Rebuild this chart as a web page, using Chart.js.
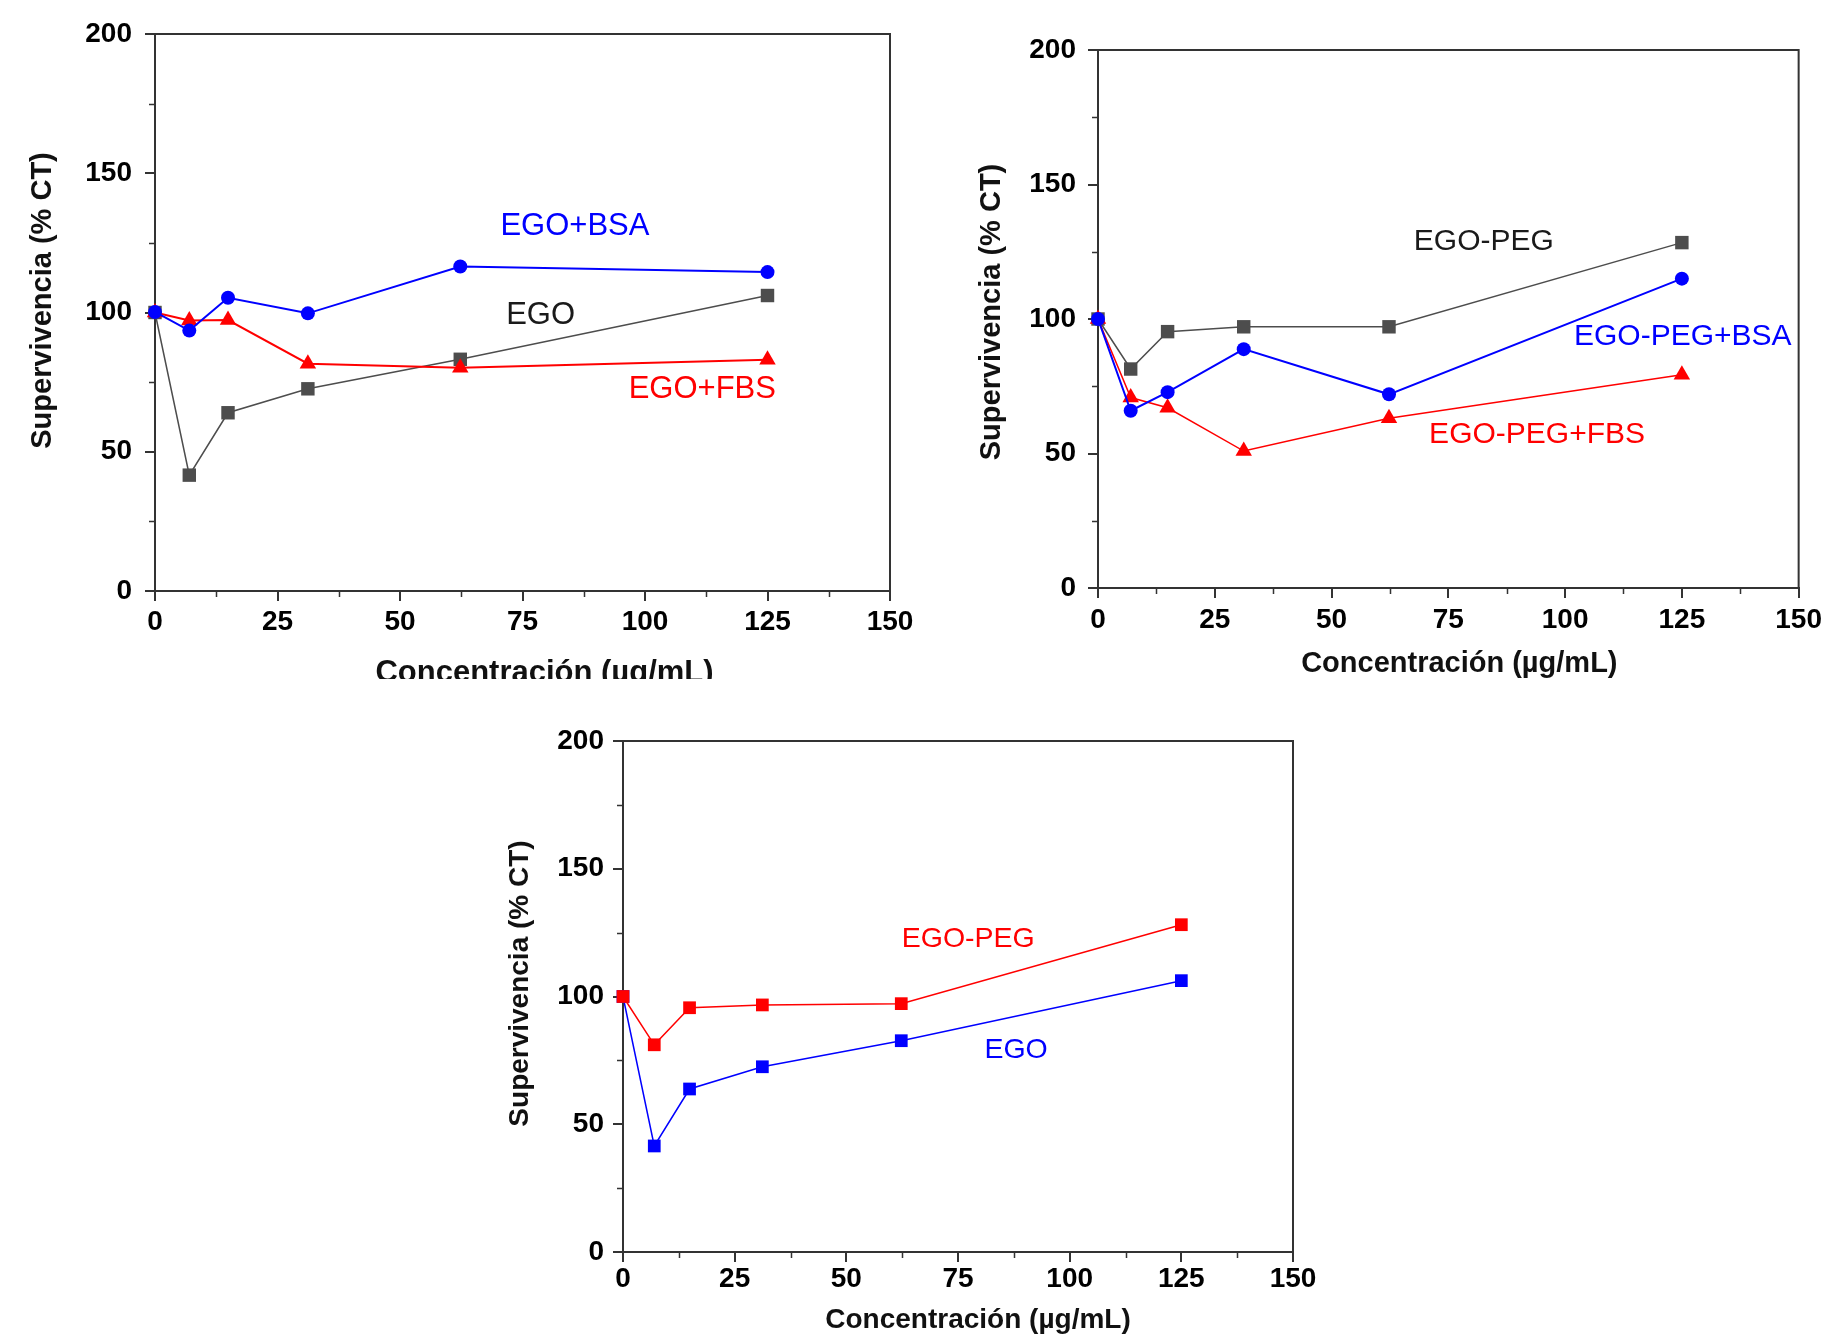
<!DOCTYPE html>
<html>
<head>
<meta charset="utf-8">
<script src="https://cdn.jsdelivr.net/npm/chart.js@4.4.0/dist/chart.umd.min.js"></script>
<style>
  body { margin: 0; background: #fff; width: 1827px; height: 1336px; position: relative; overflow: hidden; }
  .panel { position: absolute; overflow: hidden; }
  canvas { display: block; }
</style>
</head>
<body>
<div class="panel" style="left:0;top:0;width:920px;height:679px"><canvas id="chartA" width="920" height="700" style="width:920px;height:700px"></canvas></div>
<div class="panel" style="left:940px;top:0;width:887px;height:700px"><canvas id="chartB" width="887" height="700" style="width:887px;height:700px"></canvas></div>
<div class="panel" style="left:440px;top:700px;width:900px;height:636px"><canvas id="chartC" width="900" height="636" style="width:900px;height:636px"></canvas></div>

<script>
// concentrations (µg/mL), as placed on the x axis
const concentrations = [0, 7.0, 14.9, 31.2, 62.3, 125];

// panel A
const egoA = [100, 41.6, 64.0, 72.6, 83.2, 106.1];
const egoBsaA = [100.2, 93.5, 105.3, 99.7, 116.5, 114.5];
const egoFbsA = [100, 97.1, 97.3, 81.6, 80.2, 83.0];

// panel B
const egoPegB = [100, 81.4, 95.3, 97.1, 97.1, 128.4];
const egoPegBsaB = [100, 65.9, 72.8, 88.8, 72.0, 115.0];
const egoPegFbsB = [100, 70.8, 67.0, 50.9, 63.1, 79.3];

// panel C
const egoPegC = [100, 81.1, 95.6, 96.7, 97.2, 128.1];
const egoC = [100, 41.5, 63.8, 72.5, 82.7, 106.2];

// axis ticks and titles
const xMinorTicks = [12.5, 37.5, 62.5, 87.5, 112.5, 137.5];
const yMinorTicks = [25, 75, 125, 175];
const xTitleText = 'Concentración (µg/mL)';
const yTitleText = 'Supervivencia (% CT)';

// curve labels, in data units
const notesA = [
    { text: 'EGO+BSA', x: 85.7, y: 131, color: '#0000ff' },
    { text: 'EGO', x: 78.7, y: 99, color: '#1a1a1a' },
    { text: 'EGO+FBS', x: 111.7, y: 72.3, color: '#ff0000' }
];
const notesB = [
    { text: 'EGO-PEG', x: 82.6, y: 128.7, color: '#1a1a1a' },
    { text: 'EGO-PEG+BSA', x: 125.2, y: 93.5, color: '#0000ff' },
    { text: 'EGO-PEG+FBS', x: 94, y: 56.8, color: '#ff0000' }
];
const notesC = [
    { text: 'EGO-PEG', x: 77.3, y: 122.5, color: '#ff0000' },
    { text: 'EGO', x: 88, y: 79, color: '#0000ff' }
];

const fontFamily = '"Liberation Sans", Arial, sans-serif';
Chart.defaults.font.family = fontFamily;

const toPoints = (vals) => concentrations.map((c, i) => ({ x: c, y: vals[i] }));

function series(vals, color, style, radius, width) {
    return {
        data: toPoints(vals),
        borderColor: color,
        backgroundColor: color,
        pointBackgroundColor: color,
        pointBorderColor: color,
        pointBorderWidth: 0,
        pointStyle: style,
        pointRadius: radius,
        borderWidth: width,
        tension: 0,
        clip: false
    };
}

// box frame, minor ticks, axis titles and curve labels
const framePlugin = {
    id: 'frame',
    beforeDatasetsDraw(chart, args, opts) {
        const { ctx, chartArea: a, scales: { x, y } } = chart;
        ctx.save();
        ctx.strokeStyle = '#333';
        ctx.lineWidth = 2;
        ctx.beginPath();
        ctx.moveTo(a.left, a.top);
        ctx.lineTo(a.right, a.top);
        ctx.lineTo(a.right, a.bottom);
        ctx.stroke();
        ctx.lineWidth = 1.5;
        ctx.beginPath();
        xMinorTicks.forEach(v => {
            const px = Math.round(x.getPixelForValue(v)) + 0.5;
            ctx.moveTo(px, a.bottom);
            ctx.lineTo(px, a.bottom + 6);
        });
        yMinorTicks.forEach(v => {
            const py = Math.round(y.getPixelForValue(v)) + 0.5;
            ctx.moveTo(a.left, py);
            ctx.lineTo(a.left - 6, py);
        });
        ctx.stroke();

        ctx.fillStyle = '#111';
        ctx.textAlign = 'center';
        ctx.textBaseline = 'middle';
        const t = opts.titles;
        ctx.font = 'bold ' + t.xSize + 'px ' + fontFamily;
        ctx.fillText(xTitleText, (a.left + a.right) / 2 + t.xDx, a.bottom + t.xDy);
        ctx.font = 'bold ' + t.ySize + 'px ' + fontFamily;
        ctx.translate(a.left - t.yDx, (a.top + a.bottom) / 2 + t.yDy);
        ctx.rotate(-Math.PI / 2);
        ctx.fillText(yTitleText, 0, 0);
        ctx.restore();
    },
    afterDatasetsDraw(chart, args, opts) {
        const { ctx, scales: { x, y } } = chart;
        ctx.save();
        ctx.font = opts.font;
        ctx.textAlign = 'center';
        ctx.textBaseline = 'middle';
        (opts.notes || []).forEach(n => {
            ctx.fillStyle = n.color;
            ctx.fillText(n.text, x.getPixelForValue(n.x), y.getPixelForValue(n.y));
        });
        ctx.restore();
    }
};

function makePanel(id, datasets, notes, box) {
    const ctx = document.getElementById(id).getContext('2d');
    return new Chart(ctx, {
        type: 'line',
        data: { datasets: datasets },
        plugins: [framePlugin],
        options: {
            responsive: false,
            animation: false,
            devicePixelRatio: 1,
            layout: { padding: { left: 0, top: box.padTop, right: box.padRight, bottom: 0 } },
            plugins: {
                legend: { display: false },
                tooltip: { enabled: false },
                frame: { notes: notes, font: box.noteFont, titles: box.titles }
            },
            scales: {
                x: {
                    type: 'linear',
                    min: 0,
                    max: 150,
                    afterFit: (scale) => { scale.height = box.xHeight; },
                    ticks: {
                        stepSize: 25,
                        autoSkip: false,
                        maxRotation: 0,
                        padding: box.xTickPad,
                        color: '#000',
                        font: { size: box.tickSize, weight: 'bold' }
                    },
                    grid: { drawOnChartArea: false, drawTicks: true, tickLength: 10, color: '#333', lineWidth: 2 },
                    border: { display: true, color: '#333', width: 2 }
                },
                y: {
                    type: 'linear',
                    min: 0,
                    max: 200,
                    afterFit: (scale) => { scale.width = box.yWidth; },
                    ticks: {
                        stepSize: 50,
                        padding: box.yTickPad,
                        color: '#000',
                        font: { size: box.tickSize, weight: 'bold' }
                    },
                    grid: { drawOnChartArea: false, drawTicks: true, tickLength: 10, color: '#333', lineWidth: 2 },
                    border: { display: true, color: '#333', width: 2 }
                }
            }
        }
    });
}

document.addEventListener('DOMContentLoaded', () => {
    makePanel('chartA', [
        series(egoBsaA, '#0000ff', 'circle', 7, 2),
        series(egoFbsA, '#ff0000', 'triangle', 9.5, 2),
        series(egoA, '#4d4d4d', 'rect', 9.5, 1.5)
    ], notesA, {
        padTop: 34, padRight: 30, yWidth: 155, xHeight: 109,
        xTickPad: 4, yTickPad: 13, tickSize: 28,
        titles: { xSize: 31, ySize: 29, xDx: 22, xDy: 82, yDx: 112, yDy: -12 },
        noteFont: '31px ' + fontFamily
    });

    makePanel('chartB', [
        series(egoPegBsaB, '#0000ff', 'circle', 7, 2),
        series(egoPegFbsB, '#ff0000', 'triangle', 9.5, 1.5),
        series(egoPegB, '#4d4d4d', 'rect', 9.5, 1.5)
    ], notesB, {
        padTop: 50, padRight: 25, yWidth: 158, xHeight: 112,
        xTickPad: 5, yTickPad: 12, tickSize: 28,
        titles: { xSize: 29, ySize: 29, xDx: 11, xDy: 76, yDx: 106, yDy: -7 },
        noteFont: '30px ' + fontFamily
    });

    makePanel('chartC', [
        series(egoPegC, '#ff0000', 'rect', 9, 1.5),
        series(egoC, '#0000ff', 'rect', 9, 1.5)
    ], notesC, {
        padTop: 41, padRight: 47, yWidth: 183, xHeight: 84,
        xTickPad: 0, yTickPad: 9, tickSize: 28,
        titles: { xSize: 28, ySize: 28, xDx: 20, xDy: 68, yDx: 103, yDy: -13 },
        noteFont: '28.5px ' + fontFamily
    });
});
</script>
</body>
</html>
